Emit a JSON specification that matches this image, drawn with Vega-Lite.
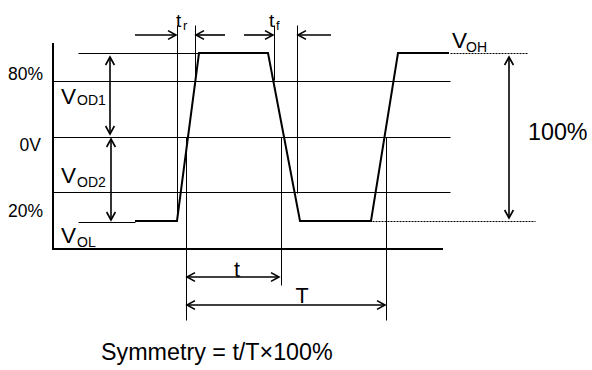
{
  "$schema": "https://vega.github.io/schema/vega-lite/v6.json",
  "width": 592,
  "height": 370,
  "autosize": {"type": "fit", "contains": "padding"},
  "padding": 0,
  "background": "white",
  "config": {"view": {"stroke": null}},
  "datasets": {
    "thin": [
      {"x": 78, "y": 53, "x2": 200, "y2": 53},
      {"x": 53, "y": 81, "x2": 450, "y2": 81},
      {"x": 53, "y": 137, "x2": 450, "y2": 137},
      {"x": 53, "y": 192, "x2": 450, "y2": 192},
      {"x": 78, "y": 222, "x2": 135, "y2": 222},
      {"x": 177, "y": 25, "x2": 177, "y2": 221},
      {"x": 195, "y": 25, "x2": 195, "y2": 85},
      {"x": 274, "y": 25, "x2": 274, "y2": 80},
      {"x": 297, "y": 25, "x2": 297, "y2": 193},
      {"x": 186, "y": 137, "x2": 186, "y2": 320},
      {"x": 281, "y": 137, "x2": 281, "y2": 285},
      {"x": 386, "y": 137, "x2": 386, "y2": 320}
    ],
    "frame": [
      {"x": 53, "y": 43, "x2": 53, "y2": 250},
      {"x": 53, "y": 249, "x2": 443, "y2": 249}
    ],
    "dotted": [
      {"x": 450, "y": 53, "x2": 528, "y2": 53},
      {"x": 372, "y": 221, "x2": 535, "y2": 221}
    ],
    "signal": [
      {"i": 0, "x": 135, "y": 221},
      {"i": 1, "x": 177, "y": 221},
      {"i": 2, "x": 199, "y": 53},
      {"i": 3, "x": 268, "y": 53},
      {"i": 4, "x": 300, "y": 221},
      {"i": 5, "x": 371, "y": 221},
      {"i": 6, "x": 398, "y": 53},
      {"i": 7, "x": 449, "y": 53}
    ],
    "arrows": [
      {"x": 135, "y": 35, "x2": 176, "y2": 35},
      {"x": 225, "y": 35, "x2": 196, "y2": 35},
      {"x": 244, "y": 35, "x2": 273, "y2": 35},
      {"x": 331, "y": 35, "x2": 298, "y2": 35},
      {"x": 110, "y": 57, "x2": 110, "y2": 134},
      {"x": 111, "y": 139, "x2": 111, "y2": 220},
      {"x": 509, "y": 57, "x2": 509, "y2": 218},
      {"x": 187, "y": 277, "x2": 279, "y2": 277},
      {"x": 187, "y": 305, "x2": 385, "y2": 305}
    ],
    "heads": [
      {"x": 176, "y": 35, "dir": "right"},
      {"x": 196, "y": 35, "dir": "left"},
      {"x": 273, "y": 35, "dir": "right"},
      {"x": 298, "y": 35, "dir": "left"},
      {"x": 110, "y": 57, "dir": "up"},
      {"x": 110, "y": 134, "dir": "down"},
      {"x": 111, "y": 139, "dir": "up"},
      {"x": 111, "y": 220, "dir": "down"},
      {"x": 509, "y": 57, "dir": "up"},
      {"x": 509, "y": 218, "dir": "down"},
      {"x": 187, "y": 277, "dir": "left"},
      {"x": 279, "y": 277, "dir": "right"},
      {"x": 187, "y": 305, "dir": "left"},
      {"x": 385, "y": 305, "dir": "right"}
    ],
    "levels": [
      {"x": 43, "y": 80, "label": "80%"},
      {"x": 41, "y": 151, "label": "0V"},
      {"x": 43, "y": 217, "label": "20%"}
    ],
    "big": [
      {"x": 528, "y": 140, "label": "100%"},
      {"x": 101, "y": 360, "label": "Symmetry = t/T×100%"}
    ],
    "tT": [
      {"x": 237, "y": 277, "label": "t"},
      {"x": 302, "y": 303, "label": "T"}
    ],
    "vmain": [
      {"x": 61, "y": 104, "label": "V"},
      {"x": 61, "y": 183, "label": "V"},
      {"x": 61, "y": 243, "label": "V"},
      {"x": 452, "y": 48, "label": "V"}
    ],
    "vsub": [
      {"x": 77, "y": 105, "label": "OD1"},
      {"x": 77, "y": 187, "label": "OD2"},
      {"x": 77, "y": 247, "label": "OL"},
      {"x": 466, "y": 52, "label": "OH"}
    ],
    "tmain": [
      {"x": 176, "y": 27, "label": "t"},
      {"x": 269, "y": 27, "label": "t"}
    ],
    "tsub": [
      {"x": 183, "y": 30, "label": "r"},
      {"x": 276, "y": 30, "label": "f"}
    ]
  },
  "encoding": {
    "x": {"field": "x", "type": "quantitative", "scale": {"domain": [0, 592], "nice": false, "zero": false}, "axis": null},
    "y": {"field": "y", "type": "quantitative", "scale": {"domain": [0, 370], "reverse": true, "nice": false, "zero": false}, "axis": null}
  },
  "layer": [
    {"data": {"name": "thin"}, "mark": {"type": "rule", "stroke": "#000", "strokeWidth": 1, "xOffset": 0.5, "x2Offset": 0.5, "yOffset": 0.5, "y2Offset": 0.5},
     "encoding": {"x2": {"field": "x2"}, "y2": {"field": "y2"}}},
    {"data": {"name": "frame"}, "mark": {"type": "rule", "stroke": "#000", "strokeWidth": 2},
     "encoding": {"x2": {"field": "x2"}, "y2": {"field": "y2"}}},
    {"data": {"name": "dotted"}, "mark": {"type": "rule", "stroke": "#000", "strokeWidth": 1, "strokeDash": [2, 1], "xOffset": 0.5, "x2Offset": 0.5, "yOffset": 0.5, "y2Offset": 0.5},
     "encoding": {"x2": {"field": "x2"}, "y2": {"field": "y2"}}},
    {"data": {"name": "signal"}, "mark": {"type": "line", "stroke": "#000", "strokeWidth": 2, "strokeJoin": "miter"},
     "encoding": {"order": {"field": "i", "type": "quantitative"}}},
    {"data": {"name": "arrows"}, "mark": {"type": "rule", "stroke": "#000", "strokeWidth": 1.6},
     "encoding": {"x2": {"field": "x2"}, "y2": {"field": "y2"}}},
    {"data": {"name": "heads"}, "transform": [{"filter": "datum.dir === 'right'"}],
     "mark": {"type": "point", "shape": "M-1,-0.55L0,0L-1,0.55", "size": 256, "filled": false, "stroke": "#000", "strokeWidth": 1.6, "angle": 0, "opacity": 1},
     "encoding": {}},
    {"data": {"name": "heads"}, "transform": [{"filter": "datum.dir === 'left'"}],
     "mark": {"type": "point", "shape": "M-1,-0.55L0,0L-1,0.55", "size": 256, "filled": false, "stroke": "#000", "strokeWidth": 1.6, "angle": 180, "opacity": 1},
     "encoding": {}},
    {"data": {"name": "heads"}, "transform": [{"filter": "datum.dir === 'up'"}],
     "mark": {"type": "point", "shape": "M-1,-0.55L0,0L-1,0.55", "size": 256, "filled": false, "stroke": "#000", "strokeWidth": 1.6, "angle": 270, "opacity": 1},
     "encoding": {}},
    {"data": {"name": "heads"}, "transform": [{"filter": "datum.dir === 'down'"}],
     "mark": {"type": "point", "shape": "M-1,-0.55L0,0L-1,0.55", "size": 256, "filled": false, "stroke": "#000", "strokeWidth": 1.6, "angle": 90, "opacity": 1},
     "encoding": {}},
    {"data": {"name": "levels"}, "mark": {"type": "text", "font": "Liberation Sans", "fontSize": 17.5, "align": "right", "baseline": "alphabetic", "color": "#000"},
     "encoding": {"text": {"field": "label"}}},
    {"data": {"name": "big"}, "mark": {"type": "text", "font": "Liberation Sans", "fontSize": 23.3, "align": "left", "baseline": "alphabetic", "color": "#000"},
     "encoding": {"text": {"field": "label"}}},
    {"data": {"name": "tT"}, "mark": {"type": "text", "font": "Liberation Sans", "fontSize": 21.5, "align": "center", "baseline": "alphabetic", "color": "#000"},
     "encoding": {"text": {"field": "label"}}},
    {"data": {"name": "vmain"}, "mark": {"type": "text", "font": "Liberation Sans", "fontSize": 22.5, "align": "left", "baseline": "alphabetic", "color": "#000"},
     "encoding": {"text": {"field": "label"}}},
    {"data": {"name": "vsub"}, "mark": {"type": "text", "font": "Liberation Sans", "fontSize": 14, "align": "left", "baseline": "alphabetic", "color": "#000"},
     "encoding": {"text": {"field": "label"}}},
    {"data": {"name": "tmain"}, "mark": {"type": "text", "font": "Liberation Sans", "fontSize": 19, "align": "left", "baseline": "alphabetic", "color": "#000"},
     "encoding": {"text": {"field": "label"}}},
    {"data": {"name": "tsub"}, "mark": {"type": "text", "font": "Liberation Sans", "fontSize": 13, "align": "left", "baseline": "alphabetic", "color": "#000"},
     "encoding": {"text": {"field": "label"}}}
  ]
}
